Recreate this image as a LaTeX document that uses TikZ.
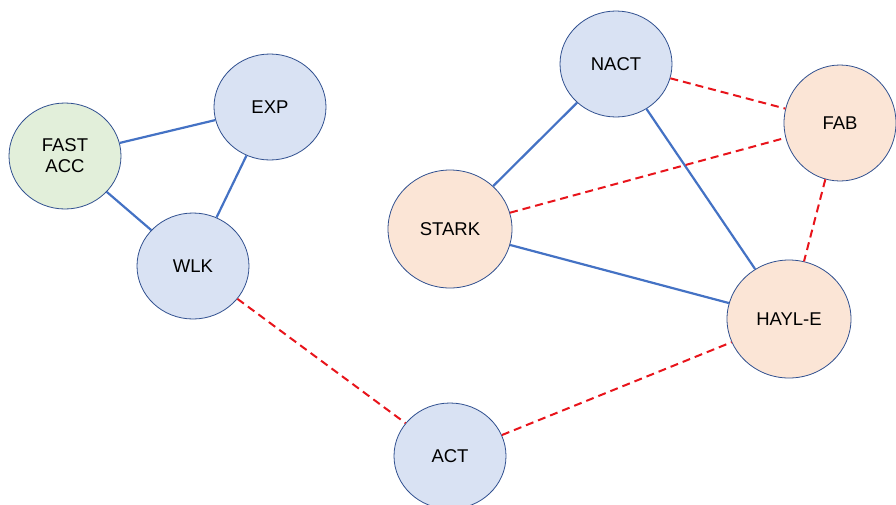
\documentclass[tikz,border=0pt]{standalone}
\usepackage{fontspec}
\setmainfont{Liberation Sans}
\usetikzlibrary{shapes.geometric, positioning}

\definecolor{fillblue}{HTML}{D9E2F3}
\definecolor{fillgreen}{HTML}{E2EFDA}
\definecolor{fillorange}{HTML}{FBE5D6}
\definecolor{rimblue}{HTML}{2F4F8F}
\definecolor{lineblue}{HTML}{4472C4}
\definecolor{linered}{HTML}{E8141B}

\begin{document}
\begin{tikzpicture}[x=1pt, y=-1pt]

    % Define styles
    \tikzstyle{state} = [ellipse, draw=rimblue, line width=0.8pt, inner sep=0pt,
        minimum width=112pt, minimum height=106pt, align=center,
        font=\fontsize{18.5}{21}\selectfont]
    \tikzstyle{big} = [minimum width=124pt, minimum height=118pt]
    \tikzstyle{link} = [draw=lineblue, line width=2.2pt]
    \tikzstyle{weak} = [draw=linered, line width=2pt, dash pattern=on 8pt off 5pt]

    \useasboundingbox (0,0) rectangle (896,504);

    % Define nodes
    \node [state, fill=fillgreen] (fastacc) at (65,156) {FAST\\ACC};
    \node [state, fill=fillblue] (exp) at (270,107) {EXP};
    \node [state, fill=fillblue] (wlk) at (193,266) {WLK};
    \node [state, fill=fillblue] (nact) at (616,64) {NACT};
    \node [state, fill=fillorange, minimum height=116pt] (fab) at (840,123) {FAB};
    \node [state, big, fill=fillorange] (stark) at (450,229) {STARK};
    \node [state, big, fill=fillorange] (hayle) at (789,319) {HAYL-E};
    \node [state, fill=fillblue] (act) at (450,456) {ACT};

    % Draw edges
    \path [link] (fastacc) -- (exp);
    \path [link] (fastacc) -- (wlk);
    \path [link] (exp) -- (wlk);
    \path [link] (nact) -- (stark);
    \path [link] (nact) -- (hayle);
    \path [link] (stark) -- (hayle);
    \path [weak] (wlk) -- (act);
    \path [weak] (act) -- (hayle);
    \path [weak] (nact) -- (fab);
    \path [weak] (stark) -- (fab);
    \path [weak] (fab) -- (hayle);

\end{tikzpicture}
\end{document}
